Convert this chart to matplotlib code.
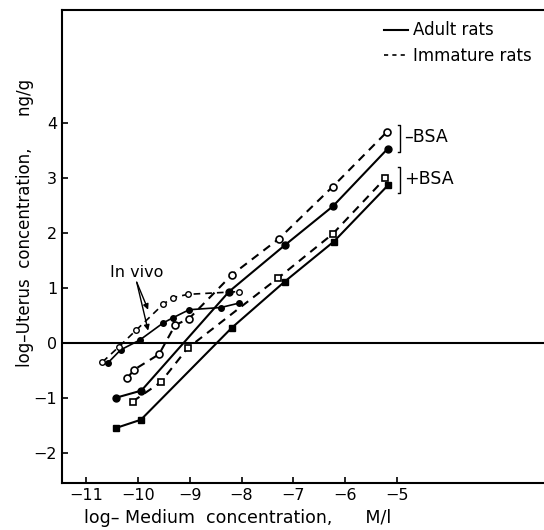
import matplotlib
matplotlib.use("Agg")
import matplotlib.pyplot as plt
from matplotlib.lines import Line2D

# adult rats, no BSA (filled circles, solid)
adult_minus_x = [-10.42, -9.93, -8.24, -7.17, -6.24, -5.18]
adult_minus_y = [-1.00, -0.87, 0.93, 1.77, 2.48, 3.53]

# immature rats, no BSA (open circles, dashed)
imm_minus_x = [-10.20, -10.07, -9.59, -9.28, -9.01, -8.18, -7.28, -6.24, -5.19]
imm_minus_y = [-0.64, -0.49, -0.21, 0.32, 0.44, 1.24, 1.89, 2.84, 3.84]

# adult rats, with BSA (filled squares, solid)
adult_plus_x = [-10.42, -9.94, -8.19, -7.17, -6.22, -5.17]
adult_plus_y = [-1.55, -1.40, 0.27, 1.11, 1.84, 2.87]

# immature rats, with BSA (open squares, dashed)
imm_plus_x = [-10.10, -9.56, -9.04, -7.29, -6.24, -5.23]
imm_plus_y = [-1.07, -0.72, -0.10, 1.18, 1.98, 2.99]

# in vivo curves
vivo_adult_x = [-10.58, -10.33, -9.96, -9.51, -9.33, -9.01, -8.40, -8.05]
vivo_adult_y = [-0.37, -0.13, 0.05, 0.36, 0.45, 0.60, 0.64, 0.72]
vivo_imm_x = [-10.68, -10.36, -10.03, -9.51, -9.33, -9.03, -8.05]
vivo_imm_y = [-0.35, -0.07, 0.23, 0.70, 0.82, 0.88, 0.93]

x_ticks = [-11, -10, -9, -8, -7, -6, -5]
y_ticks = [-2, -1, 0, 1, 2, 3, 4]

plt.rcParams['font.family'] = ['DejaVu Sans']
fig = plt.figure(figsize=(5.44, 5.30), dpi=100)
ax = fig.add_axes([0.114, 0.0887, 0.886, 0.8925])

dash = (0, (4, 3))
lw = 1.5
ms = 5

ax.plot(adult_minus_x, adult_minus_y, '-', color='black', lw=lw,
        marker='o', ms=ms, mfc='black', mec='black')
ax.plot(imm_minus_x, imm_minus_y, linestyle=dash, color='black', lw=lw,
        marker='o', ms=ms, mfc='white', mec='black', mew=1.2)
ax.plot(adult_plus_x, adult_plus_y, '-', color='black', lw=lw,
        marker='s', ms=ms, mfc='black', mec='black')
ax.plot(imm_plus_x, imm_plus_y, linestyle=dash, color='black', lw=lw,
        marker='s', ms=ms, mfc='white', mec='black', mew=1.2)
ax.plot(vivo_adult_x, vivo_adult_y, '-', color='black', lw=1.2,
        marker='o', ms=4, mfc='black', mec='black')
ax.plot(vivo_imm_x, vivo_imm_y, linestyle=dash, color='black', lw=1.2,
        marker='o', ms=4, mfc='white', mec='black', mew=1.0)

# zero line
ax.axhline(0, color='black', lw=1.5)

# in vivo label with arrows
ax.text(-10.02, 1.28, 'In vivo', fontsize=11.5, ha='center', va='center')
for ty in (0.60, 0.22):
    ax.annotate('', xy=(-9.80, ty), xytext=(-10.02, 1.1),
                arrowprops=dict(arrowstyle='-|>', color='black', lw=1.0,
                                mutation_scale=8, shrinkA=0, shrinkB=0))

# brackets for BSA groups
bx = -4.94
for (y0, y1, lab) in [(3.47, 3.96, '\u2013BSA'), (2.73, 3.20, '+BSA')]:
    ax.plot([bx - 0.05, bx, bx, bx - 0.05], [y1, y1, y0, y0],
            color='black', lw=1.0, clip_on=False)
    ax.text(bx + 0.07, (y0 + y1) / 2 + 0.02, lab, fontsize=12.5,
            ha='left', va='center')

# legend
handles = [Line2D([0], [0], color='black', lw=1.5, linestyle='-'),
           Line2D([0], [0], color='black', lw=1.2, linestyle=(0, (2.5, 2.5)))]
ax.legend(handles, ['Adult rats', 'Immature rats'], loc='upper left',
          bbox_to_anchor=(0.655, 0.99), frameon=False, fontsize=12,
          handlelength=1.4, handletextpad=0.3, labelspacing=0.45,
          borderaxespad=0)

ax.set_xlim(-11.46, -2.17)
ax.set_ylim(-2.55, 6.05)
ax.set_xticks(x_ticks)
ax.set_yticks(y_ticks)
ax.set_xticklabels([str(t).replace('-', '\u2212') for t in x_ticks])
ax.set_yticklabels([str(t).replace('-', '\u2212') for t in y_ticks])
ax.tick_params(direction='in', length=4, width=1.2, labelsize=11.5)
ax.spines['right'].set_visible(False)
for s in ('left', 'top', 'bottom'):
    ax.spines[s].set_linewidth(1.5)

ax.set_xlabel('log\u2013 Medium  concentration,      M/l', fontsize=12.5)
ax.xaxis.set_label_coords(0.365, -0.073)
ax.xaxis.label.set_va('center')
ax.set_ylabel('log\u2013Uterus  concentration,      ng/g', fontsize=12)
ax.yaxis.set_label_coords(-0.077, 0.55)
ax.yaxis.label.set_va('center')

fig.savefig('out.png', dpi=100)
